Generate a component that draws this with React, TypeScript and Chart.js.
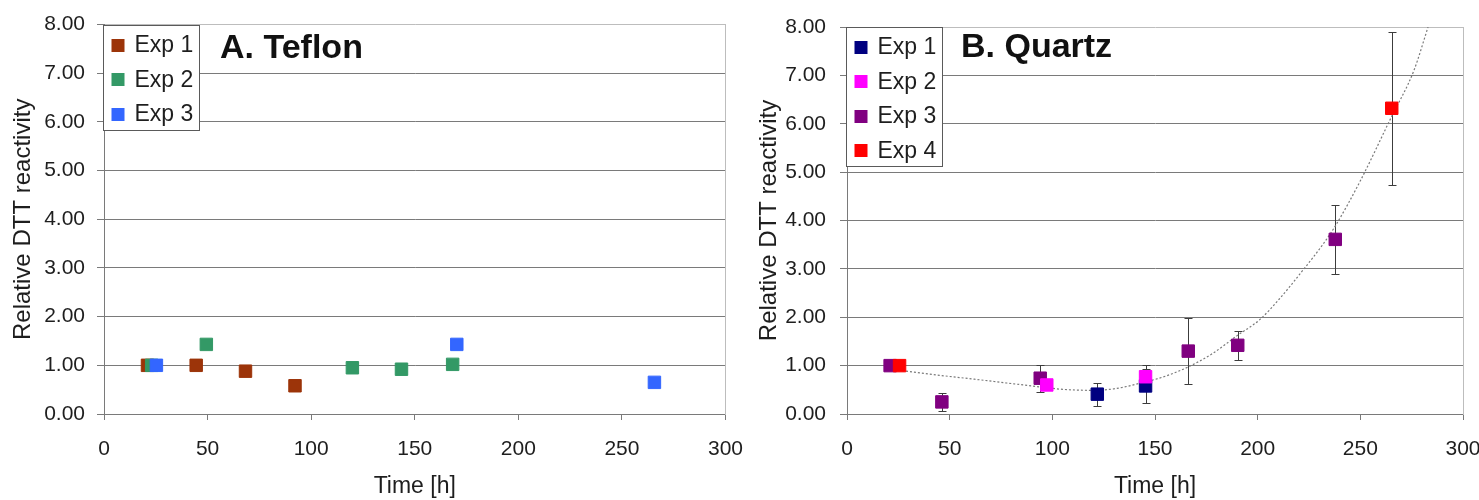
import React, { useEffect, useRef } from "react";
import { Chart, registerables } from "chart.js";

Chart.register(...registerables);

const FONT = "'Liberation Sans', Arial, sans-serif";
const TEXT = "#1e1e1e";
const GRID_DARK = "#7a7a7a";
const GRID_LIGHT = "#bdbdbd";

// ---------- ticks ----------
const xTickValues = [0, 50, 100, 150, 200, 250, 300];
const yTickValues = [0, 1, 2, 3, 4, 5, 6, 7, 8];

// ---------- A. Teflon ----------
const teflonExp1X = [21, 44.5, 68.3, 92.2];
const teflonExp1Y = [1.0, 1.0, 0.88, 0.58];
const teflonExp2X = [23, 49.4, 119.9, 143.6, 168.3];
const teflonExp2Y = [1.0, 1.43, 0.95, 0.92, 1.02];
const teflonExp3X = [25.3, 170.3, 265.7];
const teflonExp3Y = [1.0, 1.43, 0.65];

// ---------- B. Quartz ----------
const quartzExp1X = [121.9, 145.4];
const quartzExp1Y = [0.41, 0.58];
const quartzExp1Err = [0.24, 0.36];
const quartzExp2X = [97.3, 145.4];
const quartzExp2Y = [0.6, 0.77];
const quartzExp2Err = [0.1, 0.24];
const quartzExp3X = [21, 46.2, 94.1, 166.2, 190.3, 237.8];
const quartzExp3Y = [1.0, 0.25, 0.74, 1.3, 1.42, 3.61];
const quartzExp3Err = [0, 0.19, 0.28, 0.69, 0.3, 0.72];
const quartzExp4X = [25.6, 265.3];
const quartzExp4Y = [1.0, 6.32];
const quartzExp4Err = [0, 1.58];

// trend line
const trendX = [21, 45, 62, 80, 94, 105, 118, 130, 145, 155, 166, 178, 190, 201, 211, 222, 232, 238, 250, 265, 276, 283];
const trendY = [0.93, 0.8, 0.72, 0.63, 0.56, 0.51, 0.49, 0.52, 0.66, 0.78, 0.97, 1.25, 1.62, 1.95, 2.4, 2.97, 3.52, 3.9, 4.82, 6.13, 7.09, 8.0];

const toPoints = (xs: number[], ys: number[]) => xs.map((x, i) => ({ x, y: ys[i] }));

function markerDataset(label: string, color: string, xs: number[], ys: number[], order: number, errors?: number[]) {
  return {
    type: "scatter",
    label,
    data: toPoints(xs, ys),
    backgroundColor: color,
    borderColor: color,
    borderWidth: 1,
    pointStyle: "rect",
    pointRadius: 8.8,
    pointHoverRadius: 8.8,
    showLine: false,
    order,
    errors,
    inLegend: true,
  } as any;
}

const errorBarPlugin = {
  id: "errorBars",
  beforeDatasetsDraw(chart: any) {
    const { ctx } = chart;
    const xs = chart.scales.x;
    const ys = chart.scales.y;
    ctx.save();
    ctx.strokeStyle = "#3c3c3c";
    ctx.lineWidth = 1;
    chart.data.datasets.forEach((ds: any) => {
      if (!ds.errors) return;
      ds.data.forEach((p: any, i: number) => {
        const e = ds.errors[i];
        if (!e) return;
        const px = Math.round(xs.getPixelForValue(p.x)) + 0.5;
        const y1 = Math.round(ys.getPixelForValue(p.y + e)) + 0.5;
        const y2 = Math.round(ys.getPixelForValue(p.y - e)) + 0.5;
        ctx.beginPath();
        ctx.moveTo(px, y1);
        ctx.lineTo(px, y2);
        ctx.moveTo(px - 4, y1);
        ctx.lineTo(px + 4, y1);
        ctx.moveTo(px - 4, y2);
        ctx.lineTo(px + 4, y2);
        ctx.stroke();
      });
    });
    ctx.restore();
  },
};

const panelPlugin = {
  id: "panel",
  afterDraw(chart: any, _args: any, opts: any) {
    const { ctx, chartArea } = chart;
    ctx.save();
    // panel title
    ctx.font = `bold 34px ${FONT}`;
    ctx.fillStyle = "#111";
    ctx.textAlign = "left";
    ctx.textBaseline = "alphabetic";
    ctx.fillText(opts.title, chartArea.left + opts.titleDx, chartArea.top + opts.titleDy);
    // legend box
    const items = chart.data.datasets.filter((d: any) => d.inLegend);
    const rowH = 34.5;
    const bx = Math.round(chartArea.left) - 0.5;
    const by = Math.round(chartArea.top) + 0.5;
    const bw = 96;
    const bh = Math.round(items.length * rowH + 1);
    ctx.fillStyle = "#ffffff";
    ctx.fillRect(bx, by, bw, bh);
    ctx.strokeStyle = "#5a5a5a";
    ctx.lineWidth = 1;
    ctx.strokeRect(bx, by, bw, bh);
    ctx.font = `23px ${FONT}`;
    ctx.textBaseline = "middle";
    items.forEach((d: any, i: number) => {
      const cy = by + 19.5 + i * rowH;
      ctx.fillStyle = d.backgroundColor;
      ctx.fillRect(bx + 8, Math.round(cy - 6.5), 13, 13);
      ctx.fillStyle = TEXT;
      ctx.fillText(d.label, bx + 31, cy + 1);
    });
    ctx.restore();
  },
};

function buildConfig(p: {
  datasets: any[];
  title: string;
  titleDx: number;
  titleDy: number;
  padTop: number;
  padRight: number;
  yAxisWidth: number;
  yTickPad: number;
  yTitlePad: number;
}) {
  return {
    type: "scatter",
    data: { datasets: p.datasets },
    plugins: [errorBarPlugin, panelPlugin],
    options: {
      responsive: false,
      animation: false,
      events: [],
      layout: { padding: { left: 0, right: p.padRight, top: p.padTop, bottom: 0 } },
      plugins: {
        legend: { display: false },
        tooltip: { enabled: false },
        panel: { title: p.title, titleDx: p.titleDx, titleDy: p.titleDy },
      },
      scales: {
        x: {
          type: "linear",
          position: "bottom",
          min: 0,
          max: 300,
          afterBuildTicks: (s: any) => {
            s.ticks = xTickValues.map((v) => ({ value: v }));
          },
          afterFit: (s: any) => {
            s.height = 86;
          },
          ticks: { font: { family: FONT, size: 21 }, color: TEXT, padding: 17, maxRotation: 0, autoSkip: false },
          grid: { display: true, drawOnChartArea: false, drawTicks: true, tickLength: 6, color: GRID_DARK, tickColor: GRID_DARK },
          border: { display: true, color: GRID_DARK, width: 1 },
          title: { display: true, text: "Time [h]", font: { family: FONT, size: 23 }, color: TEXT, padding: { top: 0, bottom: 0 } },
        },
        y: {
          type: "linear",
          position: "left",
          min: 0,
          max: 8,
          afterBuildTicks: (s: any) => {
            s.ticks = yTickValues.map((v) => ({ value: v }));
          },
          afterFit: (s: any) => {
            s.width = p.yAxisWidth;
          },
          ticks: {
            font: { family: FONT, size: 21 },
            color: TEXT,
            padding: p.yTickPad,
            callback: (v: any) => Number(v).toFixed(2),
          },
          grid: {
            display: true,
            drawTicks: true,
            tickLength: 7,
            lineWidth: 1,
            color: (c: any) => (c.tick && c.tick.value === 8 ? GRID_LIGHT : GRID_DARK),
            tickColor: GRID_DARK,
          },
          border: { display: true, color: GRID_DARK, width: 1 },
          title: {
            display: true,
            text: "Relative DTT reactivity",
            font: { family: FONT, size: 24 },
            color: TEXT,
            padding: { top: p.yTitlePad, bottom: 0 },
          },
        },
        y2: {
          type: "linear",
          position: "right",
          min: 0,
          max: 8,
          display: true,
          ticks: { display: false },
          grid: { display: false, drawTicks: false },
          border: { display: true, color: GRID_LIGHT, width: 1 },
        },
      },
    },
  } as any;
}

function teflonConfig() {
  return buildConfig({
    datasets: [
      markerDataset("Exp 1", "#9c3409", teflonExp1X, teflonExp1Y, 3),
      markerDataset("Exp 2", "#339966", teflonExp2X, teflonExp2Y, 2),
      markerDataset("Exp 3", "#3366ff", teflonExp3X, teflonExp3Y, 1),
    ],
    title: "A. Teflon",
    titleDx: 116,
    titleDy: 33,
    padTop: 24,
    padRight: 32,
    yAxisWidth: 104,
    yTickPad: 12,
    yTitlePad: 9,
  });
}

function quartzConfig() {
  return buildConfig({
    datasets: [
      markerDataset("Exp 1", "#000080", quartzExp1X, quartzExp1Y, 4, quartzExp1Err),
      markerDataset("Exp 2", "#ff00ff", quartzExp2X, quartzExp2Y, 2, quartzExp2Err),
      markerDataset("Exp 3", "#800080", quartzExp3X, quartzExp3Y, 3, quartzExp3Err),
      markerDataset("Exp 4", "#ff0000", quartzExp4X, quartzExp4Y, 1, quartzExp4Err),
      {
        type: "line",
        label: "",
        data: toPoints(trendX, trendY),
        borderColor: "#7a7a7a",
        borderWidth: 1.2,
        borderDash: [2, 2],
        pointRadius: 0,
        pointHoverRadius: 0,
        fill: false,
        cubicInterpolationMode: "monotone",
        order: 10,
        inLegend: false,
      },
    ],
    title: "B. Quartz",
    titleDx: 114,
    titleDy: 30,
    padTop: 27,
    padRight: 37,
    yAxisWidth: 107,
    yTickPad: 14,
    yTitlePad: 15,
  });
}

function Panel({ make, left }: { make: () => any; left: number }) {
  const ref = useRef<HTMLCanvasElement>(null);
  useEffect(() => {
    if (!ref.current) return;
    const chart = new Chart(ref.current, make());
    return () => chart.destroy();
  }, []);
  return (
    <canvas
      ref={ref}
      width={760}
      height={500}
      style={{ position: "absolute", left, top: 0, width: "760px", height: "500px" }}
    />
  );
}

export default function App() {
  return (
    <div
      style={{
        position: "absolute",
        left: 0,
        top: 0,
        width: "1479px",
        height: "500px",
        overflow: "hidden",
        background: "#ffffff",
      }}
    >
      <Panel make={teflonConfig} left={0} />
      <Panel make={quartzConfig} left={740} />
    </div>
  );
}
